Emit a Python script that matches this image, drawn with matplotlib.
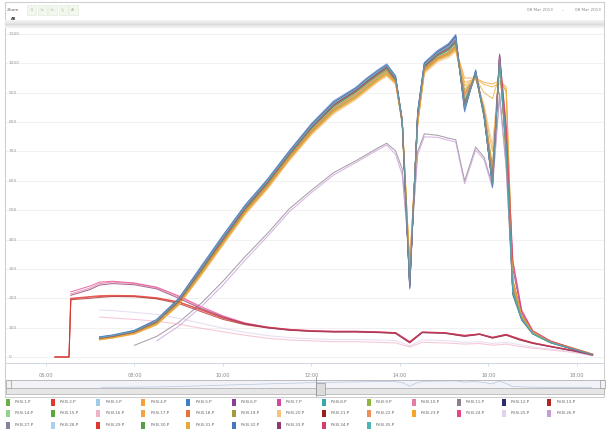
import numpy as np
import matplotlib
matplotlib.use("Agg")
import matplotlib.pyplot as plt
from matplotlib.patches import Rectangle
from matplotlib.lines import Line2D

W, H = 608, 432

# ---------------- data ----------------
# time (hours of day) for the "rising" series
T_A = [7.21, 7.5, 8.0, 8.5, 9.0, 9.5, 10.0, 10.5, 11.0, 11.5, 12.0, 12.5, 13.0, 13.25,
       13.5, 13.7, 13.9, 14.05, 14.22, 14.4, 14.55, 14.85, 15.1, 15.26, 15.46, 15.71,
       15.9, 16.09, 16.25, 16.4, 16.55, 16.75, 17.0, 17.4, 17.9, 18.35]
# time for the "morning" series
T_C = [6.2, 6.52, 6.56, 7.0, 7.21, 7.5, 8.0, 8.5, 9.0, 9.5, 10.0, 10.5, 11.0, 11.5, 12.0,
       12.5, 13.0, 13.5, 13.9, 14.22, 14.5, 15.0, 15.46, 15.8, 16.09, 16.4, 16.7, 17.0,
       17.4, 17.9, 18.35]

pv01 = [62,68,84,118,188,292,398,503,592,688,778,852,902,932,962,982,940,790,240,810,985,1025,1045,1070,860,960,815,590,1010,690,210,125,78,48,26,7]
pv02 = [0,0,198,204,206,208,207,200,186,160,132,112,100,92,88,86,86,84,82,50,84,82,72,78,66,76,60,48,36,22,6]
pv03 = [66,72,88,124,196,300,408,512,598,696,786,862,910,942,970,990,950,810,260,830,995,1035,1055,1080,880,968,830,610,1020,710,230,135,82,52,29,9]
pv04 = [60,66,80,112,180,282,388,492,578,676,765,838,885,915,945,965,935,805,300,800,975,1015,1030,1050,950,950,935,930,940,920,260,140,84,52,30,9]
pv05 = [68,74,90,126,198,305,412,515,602,700,792,868,915,948,975,995,955,805,235,835,1000,1040,1065,1095,840,975,825,580,1025,720,215,128,80,50,27,8]
pv06 = [64,70,86,120,192,296,402,508,594,694,784,860,908,938,968,990,948,800,245,825,992,1035,1058,1085,855,970,835,595,1018,760,300,150,86,52,28,8]
pv07 = [63,69,85,119,190,293,399,504,590,690,780,856,905,935,962,984,945,798,250,818,990,1030,1050,1078,865,965,825,600,1030,780,320,155,88,54,30,9]
pv08 = [65,71,87,122,194,298,404,509,596,692,782,858,906,936,966,986,946,802,255,822,988,1028,1048,1072,850,962,818,588,1012,705,225,132,80,50,28,8]
pv09 = [61,67,82,114,182,284,390,494,580,678,768,842,890,920,950,972,940,805,280,800,978,1018,1035,1058,900,955,840,640,1000,690,240,138,82,51,29,8]
pv10 = [None,None,215,235,250,255,250,236,205,168,138,114,101,93,89,87,87,85,82,50,84,82,72,78,66,76,60,48,36,22,6]
pv11 = [None,None,40,70,118,182,258,342,420,505,568,628,668,690,712,728,702,640,310,700,760,755,745,740,600,715,680,585,900,650,215,128,80,50,28,8]
pv12 = [67,73,89,125,197,302,410,514,600,698,790,866,914,945,972,993,952,808,245,832,998,1038,1062,1090,845,972,822,585,1022,715,220,130,80,50,27,8]
pv13 = [0,0,195,200,203,206,205,198,182,155,128,110,99,91,87,85,85,83,80,48,83,81,70,77,64,74,58,46,35,21,6]
pv14 = [63,69,84,117,186,289,395,499,586,684,774,848,898,928,958,978,942,800,270,812,985,1022,1040,1062,880,958,828,620,1005,700,235,136,82,51,29,9]
pv15 = [64,70,86,121,191,295,401,506,593,691,781,857,906,936,964,985,946,800,250,820,990,1030,1050,1075,862,964,820,592,1014,702,220,130,80,50,28,8]
pv16 = [None,None,None,None,136,133,128,122,112,98,86,74,64,58,55,52,52,50,48,34,50,48,44,46,40,44,36,30,24,16,5]
pv17 = [59,65,79,110,178,278,384,488,574,672,760,832,880,910,940,960,932,808,310,795,970,1010,1025,1045,900,955,850,700,990,760,260,142,85,53,31,10]
pv18 = [62,68,83,116,185,288,393,497,584,682,772,846,896,926,955,976,940,798,265,808,982,1020,1038,1060,890,956,832,625,1008,705,238,137,82,51,29,9]
pv19 = [60,66,81,113,181,283,389,493,579,677,767,840,888,918,948,968,936,802,290,798,976,1015,1032,1054,910,952,845,650,998,695,245,140,84,52,30,9]
pv20 = [58,64,78,109,176,275,380,484,570,668,756,828,876,906,936,956,928,805,320,790,965,1005,1020,1040,920,945,860,720,980,720,250,140,84,52,31,10]
pv21 = [65,71,87,123,195,299,406,510,597,695,785,861,909,940,968,989,948,804,240,826,994,1034,1056,1082,848,968,826,590,1016,730,260,140,84,52,28,8]
pv22 = [61,67,82,115,184,287,392,496,583,681,771,845,894,924,954,975,938,800,275,805,980,1018,1036,1056,895,954,836,630,1004,700,240,138,83,51,29,9]
pv23 = [59,65,80,111,179,280,386,490,576,674,762,835,882,912,942,962,934,806,305,798,972,1012,1028,1048,935,948,928,920,932,910,265,140,85,53,30,10]
pv24 = [None,None,222,242,255,258,252,238,208,172,140,116,102,94,90,88,88,86,83,52,85,83,73,78,67,77,61,48,36,22,6]
pv25 = [None,None,None,None,160,158,152,145,132,115,98,84,73,66,62,60,60,58,56,38,58,56,50,52,46,50,42,34,27,18,5]
pv26 = [None,None,None,55,105,170,245,330,410,495,560,620,662,684,706,722,690,620,330,690,750,748,738,732,590,705,672,575,880,640,225,132,82,51,29,9]
pv27 = [64,70,85,120,190,294,400,505,592,690,780,855,904,934,963,983,944,800,250,815,988,1028,1048,1072,870,962,822,598,1012,700,225,132,80,50,28,8]
pv28 = [67,73,88,124,196,301,409,513,599,697,788,864,912,944,971,992,951,806,242,830,996,1036,1058,1086,842,970,828,588,1020,712,222,131,80,50,28,8]
pv29 = [0,0,200,206,209,210,209,202,188,162,134,114,102,94,89,87,87,85,83,52,85,83,74,79,67,77,62,49,37,23,7]
pv30 = [63,69,85,119,189,292,398,502,589,688,778,853,902,932,960,981,943,799,258,816,987,1026,1045,1068,868,960,824,602,1010,700,228,133,81,50,28,8]
pv31 = [60,66,80,112,180,281,387,491,577,675,764,836,884,914,944,964,935,804,295,800,974,1014,1030,1052,925,950,900,880,960,900,255,138,84,52,30,9]
pv32 = [69,75,91,128,200,308,415,518,605,703,795,872,918,950,978,998,958,806,232,838,1003,1044,1068,1098,835,978,822,578,1028,725,218,128,79,49,27,8]
pv33 = [None,None,210,230,245,250,246,232,200,165,136,113,100,92,88,86,86,84,81,49,83,81,71,77,65,75,59,47,35,21,6]
pv34 = [64,70,86,121,192,297,403,507,594,692,783,858,907,938,966,988,947,802,248,822,991,1031,1052,1079,858,966,826,596,1032,790,330,160,90,55,30,9]
pv35 = [66,72,88,123,195,300,407,511,598,695,786,862,911,942,970,991,950,805,250,828,995,1034,1055,1082,852,969,823,590,1018,708,222,130,80,50,28,8]

series_values = [pv01, pv02, pv03, pv04, pv05, pv06, pv07, pv08, pv09, pv10, pv11, pv12,
                 pv13, pv14, pv15, pv16, pv17, pv18, pv19, pv20, pv21, pv22, pv23, pv24,
                 pv25, pv26, pv27, pv28, pv29, pv30, pv31, pv32, pv33, pv34, pv35]
series_names = [f"PV.B.{i}.P" for i in range(1, 36)]
series_colors = ['#6aae4a', '#e0392e', '#9fcbe6', '#f0a238', '#3d7fc4', '#8b3d96', '#d2489c',
                 '#3aa8a8', '#8fb53e', '#e57ca8', '#8e7d8f', '#2d2a6e', '#b02424',
                 '#93d38f', '#5aa83e', '#f2b4c5', '#f0a540', '#e8733a', '#a39a3c', '#f6c27c',
                 '#9c1f1f', '#f08d5c', '#f5a626', '#e8448b', '#e0d2ec', '#c49dd4',
                 '#8a809b', '#a9d1ef', '#e2352d', '#5a9b4b', '#e6aa3c', '#4b75c2', '#8f3b70',
                 '#d63d6b', '#4cb2b2']

x_tick_hours = [6, 8, 10, 12, 14, 16, 18]
y_ticks = list(range(0, 1200, 100))
nav_buttons = ["1d", "1w", "1m", "1y", "All"]

# ---------------- layout helpers ----------------
def fx(x):
    return x / W

def fy(y):
    return 1 - y / H

fig = plt.figure(figsize=(W / 100, H / 100), dpi=100)
fig.patch.set_facecolor('white')

PX_PER_H = 44.25
X0_PIX = 46.0  # pixel of 06:00
def pix_to_h(p):
    return 6 + (p - X0_PIX) / PX_PER_H

ax_left, ax_right, ax_top, ax_bot = 6, 604, 28, 363
ax = fig.add_axes([fx(ax_left), fy(ax_bot), (ax_right - ax_left) / W, (ax_bot - ax_top) / H])
ax.set_xlim(pix_to_h(ax_left), pix_to_h(ax_right))
# 0 at pixel 357, 1100 at pixel 34
ppu = (357 - 34) / 1100.0
ax.set_ylim(-(ax_bot - 357) / ppu, 1100 + (34 - ax_top) / ppu)

for yv in y_ticks:
    ax.axhline(yv, color='#efefef', lw=0.6, zorder=0)

for vals, name, col in zip(series_values, series_names, series_colors):
    t = T_C if len(vals) == len(T_C) else T_A
    v = np.array([np.nan if a is None else a for a in vals], dtype=float)
    ax.plot(t, v, color=col, lw=0.75, alpha=0.75, solid_joinstyle='round')

for s in ['top', 'left', 'right']:
    ax.spines[s].set_visible(False)
ax.spines['bottom'].set_color('#c8d0dc')
ax.spines['bottom'].set_linewidth(0.6)
ax.set_yticks([])
ax.set_xticks(x_tick_hours)
ax.set_xticklabels([f"{h:02d}:00" for h in x_tick_hours], fontsize=3.6, color='#888888')
ax.tick_params(axis='x', length=2, width=0.5, color='#c8d0dc', pad=5)

ytr = ax.get_yaxis_transform()
for yv in y_ticks:
    ax.text(0.004, yv, str(yv), transform=ytr, fontsize=3.2, color='#999999',
            ha='left', va='center')

# ---------------- decorations ----------------
# outer frame
fig.add_artist(Rectangle((fx(5), fy(397)), (604 - 5) / W, (397 - 2) / H,
                         transform=fig.transFigure, fill=False, edgecolor='#d0d0d0', lw=0.8))
# top gray band (gradient-like)
band_shades = ['#f3f3f3', '#ebebeb', '#e2e2e2', '#dddddd', '#e4e4e4', '#efefef']
for k, shade in enumerate(band_shades):
    fig.add_artist(Rectangle((fx(5), fy(20 + 1.3 * (k + 1))), (604 - 5) / W, 1.35 / H,
                             transform=fig.transFigure, facecolor=shade, edgecolor='none'))

# range selector
fig.text(fx(7), fy(10), "Zoom", fontsize=3.2, color='#666666', va='center', ha='left')
for i, lbl in enumerate(nav_buttons):
    bx = 27 + 10.5 * i
    fig.add_artist(Rectangle((fx(bx), fy(14.5)), 9 / W, 9 / H, transform=fig.transFigure,
                             facecolor='#f3f8ef', edgecolor='#dfe9d6', lw=0.4))
    fig.text(fx(bx + 4.5), fy(10), lbl, fontsize=2.4, color='#a8c596', ha='center', va='center')
fig.text(fx(10.5), fy(18.5), "All", fontsize=2.6, color='#333333', ha='left', va='center',
         fontweight='bold')
# date inputs
fig.text(fx(540), fy(10), "08 Mar 2013", fontsize=3.0, color='#8a8a8a', ha='center', va='center')
fig.text(fx(563), fy(10), "–", fontsize=3.0, color='#8a8a8a', ha='center', va='center')
fig.text(fx(588), fy(10), "08 Mar 2013", fontsize=3.0, color='#8a8a8a', ha='center', va='center')

# navigator
nav = fig.add_axes([fx(8), fy(388), (603 - 8) / W, (388 - 380) / H])
nav.set_facecolor('#f1f3f8')
nav.plot(T_A, pv01, color='#7d9cc7', lw=0.5, alpha=0.5)
nav.set_xlim(ax.get_xlim())
nav.set_ylim(-50, 1200)
nav.set_xticks([])
nav.set_yticks([])
for s in nav.spines.values():
    s.set_color('#b2b1b6')
    s.set_linewidth(0.6)
for hx in (6, 600):
    fig.add_artist(Rectangle((fx(hx), fy(388)), 5 / W, 8 / H, transform=fig.transFigure,
                             facecolor='#f2f2f2', edgecolor='#999999', lw=0.5, zorder=5))
# scrollbar
fig.add_artist(Rectangle((fx(6), fy(394)), (604 - 6) / W, 6 / H, transform=fig.transFigure,
                         facecolor='#e6e6e6', edgecolor='#b8b8b8', lw=0.6))
fig.add_artist(Rectangle((fx(316), fy(395)), 9 / W, 12 / H, transform=fig.transFigure,
                         facecolor='#dcdcdc', edgecolor='#999999', lw=0.5, zorder=6))
fig.add_artist(Line2D([fx(316), fx(316)], [fy(377), fy(396)], transform=fig.transFigure,
                      color='#999999', lw=0.6, zorder=6))

# legend
for i, (name, col) in enumerate(zip(series_names, series_colors)):
    row, c = divmod(i, 13)
    lx = 6 + 45.1 * c
    ly = 402 + 11.5 * row
    fig.add_artist(Rectangle((fx(lx), fy(ly + 3.5)), 4 / W, 7 / H, transform=fig.transFigure,
                             facecolor=col, edgecolor='none'))
    fig.text(fx(lx + 9), fy(ly), name, fontsize=3.0, color='#666666', ha='left', va='center')

fig.savefig("out.png", dpi=100)
